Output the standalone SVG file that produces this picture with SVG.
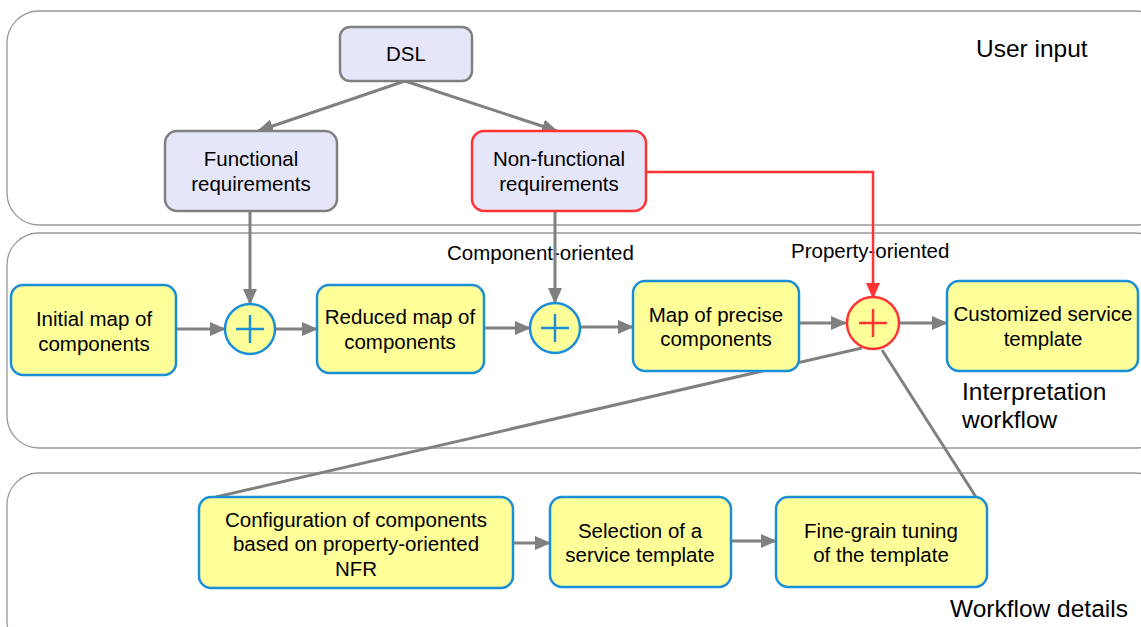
<svg xmlns="http://www.w3.org/2000/svg" width="1141" height="627" viewBox="0 0 1141 627">
<defs>
<style>
.panel{fill:#ffffff;stroke:#999999;stroke-width:1.3}
.req{fill:#e6e6fa;stroke:#808080;stroke-width:2.5}
.reqr{fill:#e6e6fa;stroke:#ff3333;stroke-width:2.5}
.step{fill:#ffff99;stroke:#1a8fd6;stroke-width:2.5}
.gw{fill:#ffff99;stroke:#1a8fd6;stroke-width:2.5}
.gwr{fill:#ffff99;stroke:#ff3333;stroke-width:2.5}
.plus{stroke:#1a8fd6;stroke-width:2.5}
.plusr{stroke:#ff3333;stroke-width:2.5}
.c{fill:none;stroke:#808080;stroke-width:3}
.cr{fill:none;stroke:#ff3333;stroke-width:2.5}
text{font-family:"Liberation Sans",Arial,sans-serif;fill:#000}
.t{font-size:20.5px;text-anchor:middle}
.lbl{font-size:20.5px}
.big{font-size:24.5px}
</style>
<marker id="ag" markerUnits="userSpaceOnUse" markerWidth="16" markerHeight="14" refX="15" refY="7" orient="auto">
<path d="M0,0 L16,7 L0,14 z" fill="#808080"/>
</marker>
<marker id="ar" markerUnits="userSpaceOnUse" markerWidth="16" markerHeight="14" refX="15" refY="7" orient="auto">
<path d="M0,0 L16,7 L0,14 z" fill="#ff3333"/>
</marker>
</defs>

<g id="panels">
<rect class="panel" x="7" y="11" width="1160" height="214" rx="32"/>
<rect class="panel" x="7" y="233" width="1160" height="215" rx="32"/>
<rect class="panel" x="7" y="473" width="1160" height="180" rx="32"/>
<text class="big" x="976" y="57">User input</text>
<text class="big" x="962" y="400">Interpretation</text>
<text class="big" x="962" y="428">workflow</text>
<text class="big" x="950" y="617">Workflow details</text>
<text class="lbl" x="447" y="260">Component-oriented</text>
<text class="lbl" x="791" y="258">Property-oriented</text>
</g>

<g id="connectors">
<line class="c" x1="405" y1="81" x2="258" y2="131" marker-end="url(#ag)"/>
<line class="c" x1="405" y1="81" x2="557" y2="131" marker-end="url(#ag)"/>
<line class="c" x1="250" y1="211" x2="250" y2="304" marker-end="url(#ag)"/>
<line class="c" x1="555" y1="211" x2="555" y2="303" marker-end="url(#ag)"/>
<polyline class="cr" points="646,172 873,172 873,298" marker-end="url(#ar)"/>
<line class="c" x1="176" y1="329" x2="225" y2="329" marker-end="url(#ag)"/>
<line class="c" x1="275" y1="329" x2="317" y2="329" marker-end="url(#ag)"/>
<line class="c" x1="484" y1="328" x2="530" y2="328" marker-end="url(#ag)"/>
<line class="c" x1="580" y1="327" x2="633" y2="327" marker-end="url(#ag)"/>
<line class="c" x1="799" y1="323" x2="846" y2="323" marker-end="url(#ag)"/>
<line class="c" x1="899" y1="323" x2="947" y2="323" marker-end="url(#ag)"/>
<line class="c" x1="862" y1="348" x2="216" y2="497"/>
<line class="c" x1="882" y1="350" x2="976" y2="497"/>
<line class="c" x1="513" y1="543" x2="550" y2="543" marker-end="url(#ag)"/>
<line class="c" x1="731" y1="541" x2="776" y2="541" marker-end="url(#ag)"/>
</g>

<g id="dsl">
<rect class="req" x="340" y="27" width="132" height="54" rx="10"/>
<text class="t" x="406" y="61">DSL</text>
</g>
<g id="functional">
<rect class="req" x="165" y="131" width="172" height="80" rx="12"/>
<text class="t" x="251" y="166">Functional</text>
<text class="t" x="251" y="191">requirements</text>
</g>
<g id="nonfunctional">
<rect class="reqr" x="472" y="131" width="174" height="80" rx="12"/>
<text class="t" x="559" y="166">Non-functional</text>
<text class="t" x="559" y="191">requirements</text>
</g>
<g id="initial">
<rect class="step" x="11" y="285" width="165" height="90" rx="12"/>
<text class="t" x="94" y="326">Initial map of</text>
<text class="t" x="94" y="351">components</text>
</g>
<g id="gate1">
<circle class="gw" cx="250" cy="329" r="25"/>
<line class="plus" x1="236" y1="329" x2="264" y2="329"/>
<line class="plus" x1="250" y1="315" x2="250" y2="343"/>
</g>
<g id="reduced">
<rect class="step" x="317" y="285" width="167" height="88" rx="12"/>
<text class="t" x="400" y="324">Reduced map of</text>
<text class="t" x="400" y="349">components</text>
</g>
<g id="gate2">
<circle class="gw" cx="555" cy="328" r="25"/>
<line class="plus" x1="541" y1="328" x2="569" y2="328"/>
<line class="plus" x1="555" y1="314" x2="555" y2="342"/>
</g>
<g id="precise">
<rect class="step" x="633" y="281" width="166" height="90" rx="12"/>
<text class="t" x="716" y="322">Map of precise</text>
<text class="t" x="716" y="346">components</text>
</g>
<g id="gate3">
<circle class="gwr" cx="873" cy="323" r="26"/>
<line class="plusr" x1="859" y1="323" x2="887" y2="323"/>
<line class="plusr" x1="873" y1="309" x2="873" y2="337"/>
</g>
<g id="customized">
<rect class="step" x="947" y="281" width="191" height="90" rx="12"/>
<text class="t" x="1043" y="321">Customized service</text>
<text class="t" x="1043" y="346">template</text>
</g>
<g id="configuration">
<rect class="step" x="199" y="497" width="314" height="91" rx="12"/>
<text class="t" x="356" y="527">Configuration of components</text>
<text class="t" x="356" y="551">based on property-oriented</text>
<text class="t" x="356" y="576">NFR</text>
</g>
<g id="selection">
<rect class="step" x="550" y="497" width="181" height="90" rx="12"/>
<text class="t" x="640" y="538">Selection of a</text>
<text class="t" x="640" y="562">service template</text>
</g>
<g id="finegrain">
<rect class="step" x="776" y="497" width="211" height="90" rx="12"/>
<text class="t" x="881" y="538">Fine-grain tuning</text>
<text class="t" x="881" y="562">of the template</text>
</g>
</svg>
